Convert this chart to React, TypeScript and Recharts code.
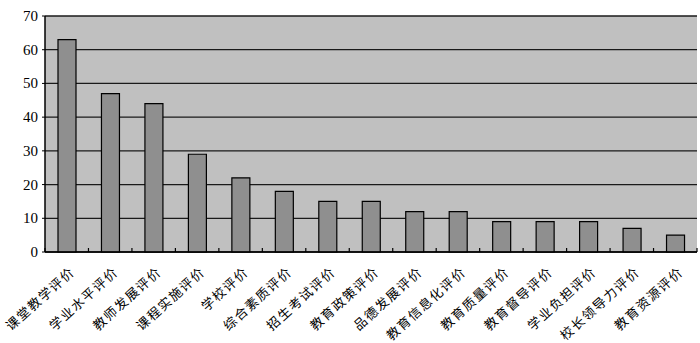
import { Bar, BarChart, CartesianGrid, XAxis, YAxis } from 'recharts';

const categories = [
  '课堂教学评价',
  '学业水平评价',
  '教师发展评价',
  '课程实施评价',
  '学校评价',
  '综合素质评价',
  '招生考试评价',
  '教育政策评价',
  '品德发展评价',
  '教育信息化评价',
  '教育质量评价',
  '教育督导评价',
  '学业负担评价',
  '校长领导力评价',
  '教育资源评价',
];
const counts = [63, 47, 44, 29, 22, 18, 15, 15, 12, 12, 9, 9, 9, 7, 5];
const yTicks = [0, 10, 20, 30, 40, 50, 60, 70];

const data = categories.map((name, i) => ({ name, count: counts[i] }));

const BAND = (700 - 45 - 3) / categories.length;

function CategoryTick(props: any) {
  const { x, y, payload, index } = props;
  const left = x - BAND / 2;
  const tx = x + 9;
  const ty = y + 21;
  return (
    <g>
      <line x1={left} y1={y} x2={left} y2={y - 4} stroke="#000" strokeWidth={1.2} />
      {index === categories.length - 1 && (
        <line x1={x + BAND / 2} y1={y} x2={x + BAND / 2} y2={y - 4} stroke="#000" strokeWidth={1.2} />
      )}
      <text
        x={tx}
        y={ty}
        textAnchor="end"
        transform={`rotate(-42 ${tx} ${ty})`}
        fontSize={13}
        letterSpacing={1.5}
        fontFamily="'Noto Sans CJK SC', sans-serif"
        fill="#000"
      >
        {payload.value}
      </text>
    </g>
  );
}

function ValueTick(props: any) {
  const { x, y, payload } = props;
  return (
    <text
      x={x}
      y={y + 5}
      textAnchor="end"
      style={{ fontFamily: '"Liberation Serif", "Times New Roman", serif', fontSize: 15 }}
      fill="#000"
    >
      {payload.value}
    </text>
  );
}

export default function App() {
  return (
    <div style={{ position: 'absolute', left: 0, top: 0, width: 700, height: 343, background: '#fff' }}>
      <BarChart width={700} height={343} data={data} margin={{ top: 16, right: 3, bottom: 0, left: 0 }}>
        <CartesianGrid vertical={false} fill="#c0c0c0" stroke="#1a1a1a" strokeWidth={1.3} />
        <XAxis
          dataKey="name"
          interval={0}
          height={91}
          tickSize={0}
          tickMargin={0}
          tick={<CategoryTick />}
          axisLine={{ stroke: '#000', strokeWidth: 1.5 }}
          tickLine={false}
        />
        <XAxis xAxisId="top" orientation="top" height={0} tick={false} tickLine={false} axisLine={{ stroke: '#8a8a8a' }} />
        <YAxis
          domain={[0, 70]}
          ticks={yTicks}
          width={45}
          tickSize={3}
          tickMargin={4}
          interval={0}
          axisLine={{ stroke: '#000', strokeWidth: 1.5 }}
          tickLine={{ stroke: '#000' }}
          tick={<ValueTick />}
        />
        <YAxis yAxisId="right" orientation="right" width={0} tick={false} tickLine={false} axisLine={{ stroke: '#8a8a8a' }} />
        <Bar dataKey="count" barSize={18} fill="#8f8f8f" stroke="#000" strokeWidth={1.2} isAnimationActive={false} />
      </BarChart>
    </div>
  );
}
